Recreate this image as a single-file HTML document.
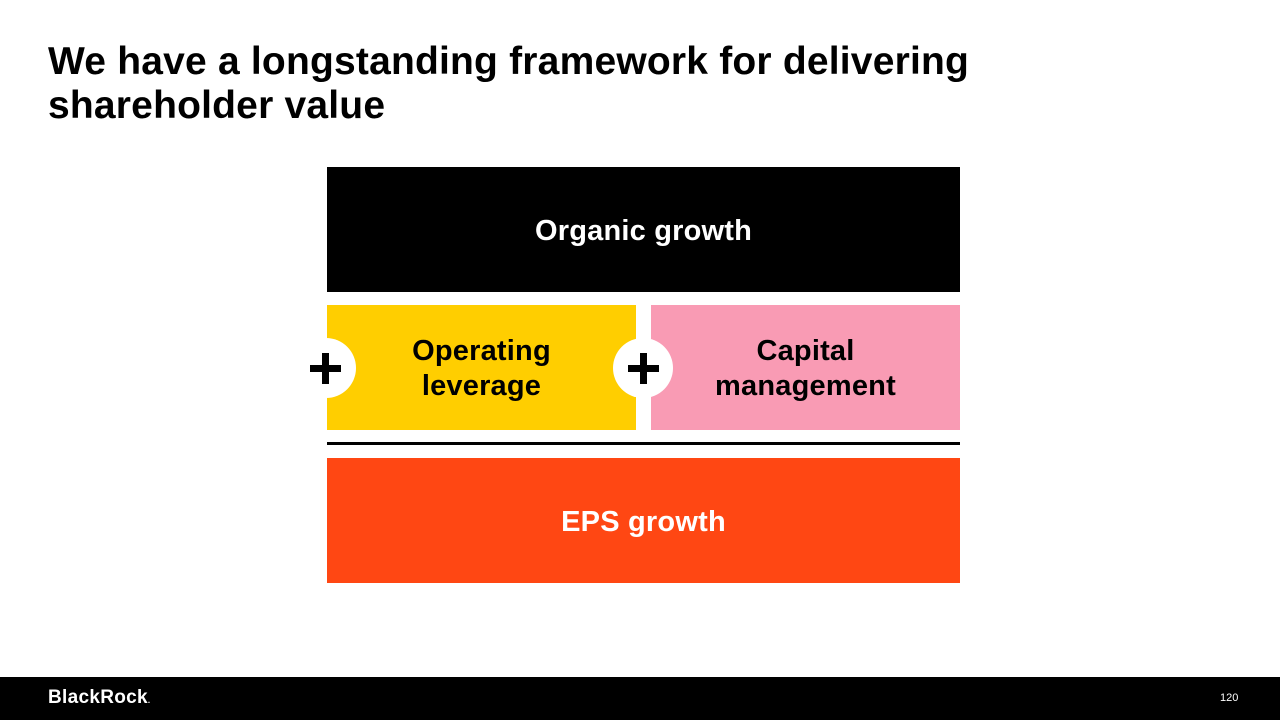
<!DOCTYPE html>
<html><head><meta charset="utf-8"><style>
body{margin:0;width:1280px;height:720px;position:relative;background:#fff;font-family:"Liberation Sans",sans-serif;overflow:hidden}
.t{position:absolute;left:48px;top:40px;font-size:39px;font-weight:bold;line-height:44px;letter-spacing:0.2px;color:#000;white-space:nowrap}
.b{position:absolute;display:flex;align-items:center;justify-content:center;text-align:center;font-weight:bold;font-size:29px;line-height:35px;letter-spacing:0.2px;padding-top:3px;box-sizing:border-box}
.c{position:absolute;width:60px;height:60px;border-radius:50%;background:#fff}
</style></head><body>
<div class="t">We have a longstanding framework for delivering<br>shareholder value</div>
<div class="b" style="left:327px;top:167px;width:633px;height:125px;background:#000;color:#fff">Organic growth</div>
<div class="b" style="left:327px;top:305px;width:309px;height:125px;background:#ffce00;color:#000">Operating<br>leverage</div>
<div class="b" style="left:651px;top:305px;width:309px;height:125px;background:#f99bb4;color:#000">Capital<br>management</div>
<div class="c" style="left:296px;top:338px"></div>
<div class="c" style="left:613px;top:338px"></div>
<svg style="position:absolute;left:0;top:0" width="1280" height="720">
<rect x="310" y="365" width="31" height="7" fill="#000"/><rect x="322" y="353" width="7" height="31" fill="#000"/>
<rect x="628" y="365" width="31" height="7" fill="#000"/><rect x="640" y="353" width="7" height="31" fill="#000"/>
</svg>
<div style="position:absolute;left:327px;top:442px;width:633px;height:3px;background:#000"></div>
<div class="b" style="left:327px;top:458px;width:633px;height:125px;background:#ff4713;color:#fff">EPS growth</div>
<div style="position:absolute;left:0;top:677px;width:1280px;height:43px;background:#000"></div>
<div style="position:absolute;left:48px;top:687px;color:#fff;font-weight:bold;font-size:19px;letter-spacing:0.3px">BlackRock<span style="font-size:8px">.</span></div>
<div style="position:absolute;left:1220px;top:692px;color:#fff;font-size:11px">120</div>
</body></html>
